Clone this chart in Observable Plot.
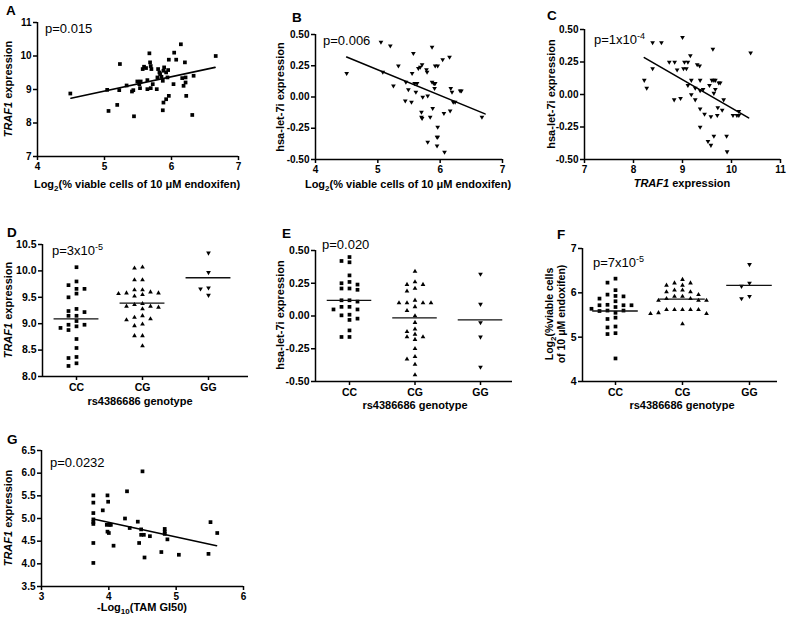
<!DOCTYPE html>
<html><head><meta charset="utf-8">
<script src="https://cdn.jsdelivr.net/npm/d3@7"></script>
<script src="https://cdn.jsdelivr.net/npm/@observablehq/plot@0.6"></script>
<style>
html,body{margin:0;padding:0;background:#fff;}
#fig{position:relative;width:788px;height:621px;overflow:hidden;font-family:"Liberation Sans",Arial,sans-serif;background:#fff;}
.pan{position:absolute;}
.pan svg{background:transparent !important;max-width:none !important;overflow:visible;}
[aria-label="x-axis"] line,[aria-label="y-axis"] line,[aria-label="x-axis tick"] path,[aria-label="y-axis tick"] path{stroke-width:1.5px;}
#ann{position:absolute;left:0;top:0;pointer-events:none;}
</style></head><body><div id="fig"></div>
<script>
// ---------- data ----------
// Panel A: Log2(% viable cells) vs TRAF1 expression
const aX=[4.49,5.04,5.06,5.19,5.22,5.23,5.33,5.41,5.44,5.43,5.49,5.52,5.54,5.53,5.57,5.59,5.62,5.64,5.67,5.68,5.69,5.70,5.69,5.72,5.64,5.78,5.79,5.82,5.80,5.83,5.85,5.87,5.88,5.89,5.92,5.95,5.94,5.87,5.88,5.92,5.96,5.96,6.03,6.04,6.07,6.14,6.16,6.18,6.20,6.21,6.21,6.22,6.31,6.33,6.66];
const aY=[8.88,8.99,8.36,8.54,8.98,9.76,9.12,8.94,8.20,8.98,9.24,9.16,9.24,9.04,9.61,9.68,9.64,9.28,10.08,9.81,9.70,9.61,9.04,9.16,9.01,9.01,9.36,9.51,9.61,9.46,9.38,9.26,9.56,9.66,9.51,9.58,9.36,8.38,8.61,8.71,8.81,9.89,9.16,10.10,9.89,10.35,9.34,9.11,9.81,9.36,9.21,8.81,8.24,9.41,10.00];
const aFitX=[4.50,6.65], aFitY=[8.74,9.66];
// Panel B: Log2(% viable cells) vs hsa-let-7i
const bX=[4.50,5.05,5.20,5.08,5.25,5.33,5.45,5.44,5.49,5.54,5.55,5.57,5.59,5.63,5.61,5.65,5.68,5.71,5.72,5.70,5.70,5.71,5.78,5.79,5.80,5.80,5.84,5.87,5.88,5.87,5.91,5.92,5.90,5.91,5.92,5.96,5.96,5.95,5.96,5.95,6.04,6.06,6.07,6.15,6.17,6.19,6.21,6.24,6.16,6.32,6.34,6.67];
const bY=[0.19,0.44,0.41,0.20,0.09,0.25,0.12,-0.03,0.06,-0.04,0.19,0.35,0.11,0.11,0.04,0.23,0.24,0.26,0.00,-0.12,-0.16,-0.17,0.22,0.20,0.01,-0.36,-0.16,0.40,-0.09,0.12,0.11,0.11,0.11,0.07,0.25,0.25,-0.24,-0.32,-0.32,-0.39,0.30,-0.13,-0.44,0.32,0.07,0.04,-0.04,-0.04,-0.11,0.05,0.05,-0.16];
const bFitX=[4.50,6.72], bFitY=[0.32,-0.135];
// Panel C: TRAF1 vs hsa-let-7i
const cX=[8.22,8.27,8.39,8.39,8.57,8.73,8.84,8.83,8.89,8.96,9.00,9.02,9.04,9.08,9.11,9.11,9.16,9.18,9.18,9.26,9.26,9.30,9.35,9.36,9.36,9.36,9.36,9.42,9.45,9.52,9.55,9.58,9.58,9.60,9.62,9.64,9.64,9.64,9.67,9.67,9.71,9.72,9.74,9.77,9.81,9.84,9.90,9.91,10.03,10.11,10.15,10.15,10.39];
const cY=[0.11,0.05,0.40,0.20,0.40,0.25,0.25,-0.04,0.19,-0.03,0.44,0.20,0.25,0.20,0.25,0.07,0.30,0.11,0.00,0.05,-0.04,0.23,0.22,0.11,0.03,-0.11,-0.25,0.04,-0.15,-0.36,0.07,-0.39,-0.17,0.11,0.35,0.01,0.11,-0.32,0.11,0.04,-0.16,-0.10,0.09,0.09,-0.12,-0.04,-0.32,-0.44,-0.16,-0.16,-0.13,-0.16,0.32];
const cFitX=[8.22,10.35], cFitY=[0.284,-0.18];
// Genotype panels
const genotypes=["CC","CG","GG"];
const dCC=[10.07,9.80,9.57,9.66,9.73,9.66,9.50,9.24,9.15,9.15,9.22,9.28,8.98,8.95,9.05,8.88,8.92,8.98,8.71,8.54,8.37,8.35,8.20,8.25];
const dCG=[10.07,10.05,9.83,9.83,9.64,9.60,9.58,9.58,9.64,9.57,9.55,9.52,9.31,9.36,9.33,9.33,9.28,9.38,9.12,9.09,9.15,8.99,9.07,8.96,8.77,8.77,8.58];
const dGG=[10.34,9.97,9.68,9.66,9.54];
const dMean=[9.09,9.39,9.87];
const eCC=[0.45,0.41,0.42,0.31,0.25,0.26,0.24,0.21,0.20,0.21,0.12,0.11,0.12,0.07,0.05,0.05,0.07,0.01,0.005,-0.02,-0.03,-0.11,-0.16,-0.16];
const eCG=[0.34,0.24,0.21,0.26,0.24,0.19,0.10,0.10,0.10,0.10,0.12,0.07,0.04,0.00,-0.05,-0.14,-0.16,-0.10,-0.18,-0.16,-0.12,-0.25,-0.33,-0.31,-0.37,-0.45];
const eGG=[0.32,0.09,-0.05,-0.16,-0.39];
const eMean=[0.12,-0.015,-0.03];
const fCC=[6.32,6.23,5.96,5.93,5.92,6.06,5.72,5.68,5.81,5.72,5.87,5.73,5.72,5.64,5.55,5.60,5.59,5.60,5.41,5.44,5.24,5.22,5.09,5.07,4.52];
const fCG=[6.30,6.22,6.22,6.17,6.17,6.06,6.02,6.02,5.87,5.92,5.96,5.92,5.87,5.83,5.83,5.83,6.06,5.62,5.62,5.62,5.62,5.62,5.53,5.55,5.53,5.30];
const fGG=[6.64,6.22,6.15,5.87,5.92];
const fMean=[5.59,5.86,6.17];
// Panel G: -Log10(TAM GI50) vs TRAF1
const gX=[3.77,3.77,3.77,3.77,3.77,3.77,3.77,3.77,3.91,3.98,3.99,3.97,3.98,4.00,4.01,4.03,4.07,4.24,4.27,4.31,4.43,4.45,4.48,4.50,4.48,4.52,4.53,4.61,4.78,4.83,4.83,4.83,4.87,5.04,5.48,5.51,5.61];
const gY=[5.51,5.35,5.12,4.98,4.92,4.88,4.46,4.02,5.18,5.51,5.37,4.86,4.71,4.68,4.86,4.86,4.40,5.00,5.60,4.79,4.93,4.46,4.76,6.04,4.64,4.64,4.14,4.61,4.26,4.77,4.71,4.66,4.54,4.20,4.22,4.92,4.68];
const gFitX=[3.77,5.60], gFitY=[4.99,4.40];

// ---------- helpers ----------
const FONT='"Liberation Sans", Arial, Helvetica, sans-serif';
const fig=document.getElementById("fig");
const zip=(xs,ys)=>xs.map((x,i)=>({x,y:ys[i]}));
const triDown={draw(ctx,size){const s3=Math.sqrt(3);const y=-Math.sqrt(size/(s3*3));ctx.moveTo(0,-y*2);ctx.lineTo(-s3*y,y);ctx.lineTo(s3*y,y);ctx.closePath();}};
const SYM=["square","triangle",triDown];
const RAD=[2.1,1.75,1.75];

function panel(frame,opts){
  const [x0,y0,x1,y1]=frame;
  const ml=40,mt=12,mr=12,mb=26;
  const svg=Plot.plot({
    width:(x1-x0)+ml+mr,height:(y1-y0)+mt+mb,
    marginLeft:ml,marginTop:mt,marginRight:mr,marginBottom:mb,
    style:{fontFamily:FONT,fontSize:opts.fontSize||"10px",fontWeight:"bold",background:"transparent",color:"black",overflow:"visible"},
    x:Object.assign({label:null,tickSize:4,tickPadding:2},opts.x),
    y:Object.assign({label:null,tickSize:4,tickPadding:2},opts.y),
    marks:[
      Plot.ruleX([opts.x.domain[0]],{stroke:"black",strokeWidth:1.5}),
      Plot.ruleY([opts.y.domain[0]],{stroke:"black",strokeWidth:1.5}),
      ...opts.marks
    ]
  });
  const div=document.createElement("div");
  div.className="pan";
  div.style.left=(x0-ml)+"px";div.style.top=(y0-mt)+"px";
  div.appendChild(svg);fig.appendChild(div);
}

function scatter(frame,xs,ys,fitX,fitY,sym,xo,yo){
  panel(frame,{x:xo,y:yo,marks:[
    Plot.dot(zip(xs,ys),{x:"x",y:"y",symbol:()=>SYM[sym],r:RAD[sym],fill:"black"}),
    Plot.line(zip(fitX,fitY),{x:"x",y:"y",stroke:"black",strokeWidth:1.6})
  ]});
}

// GraphPad-like column scatter: rows of points spread on discrete columns
function swarm(vals,gi,yPx,xPx){
  const sorted=[...vals].sort((a,b)=>b-a);
  const placed=[],out=[];
  for(const v of sorted){
    const py=v*yPx;let k=0;
    for(let n=0;;n++){
      k=n===0?0:(n%2?-Math.ceil(n/2):Math.ceil(n/2));
      if(!placed.some(p=>p.k===k&&Math.abs(p.py-py)<4.6))break;
    }
    placed.push({k,py});
    out.push({x:gi+k*8/xPx,y:v,g:gi});
  }
  return out;
}

function genoPanel(frame,c0,unit,groups,means,yo){
  const [x0,y0,x1,y1]=frame;
  const yPx=(y1-y0)/(yo.domain[1]-yo.domain[0]);
  const pts=groups.flatMap((vals,gi)=>swarm(vals,gi,yPx,unit));
  const xo={domain:[(x0-c0)/unit,(x1-c0)/unit],ticks:[0,1,2],tickFormat:i=>genotypes[i],tickPadding:3};
  panel(frame,{x:xo,y:yo,fontSize:"10.5px",marks:[
    ...[0,1,2].map(gi=>Plot.dot(pts.filter(p=>p.g===gi),{x:"x",y:"y",symbol:()=>SYM[gi],r:RAD[gi],fill:"black"})),
    Plot.ruleY(means.map((m,i)=>({m,i})),{y:"m",x1:d=>d.i-0.34,x2:d=>d.i+0.34,stroke:"#111",strokeWidth:1.3})
  ]});
}

const f2=d=>d.toFixed(2), f1=d=>d.toFixed(1), f0=d=>d.toFixed(0);

// ---------- panels ----------
scatter([37,22,238,156],aX,aY,aFitX,aFitY,0,{domain:[4,7],ticks:[4,5,6,7],tickFormat:f0},{domain:[7,11],ticks:[7,8,9,10,11],tickFormat:f0});
scatter([315,34,502,159],bX,bY,bFitX,bFitY,2,{domain:[4,7],ticks:[4,5,6,7],tickFormat:f0},{domain:[-0.5,0.5],ticks:[-0.5,-0.25,0,0.25,0.5],tickFormat:f2});
scatter([584,29,780,159],cX,cY,cFitX,cFitY,2,{domain:[7,11],ticks:[7,8,9,10,11],tickFormat:f0},{domain:[-0.5,0.5],ticks:[-0.5,-0.25,0,0.25,0.5],tickFormat:f2});
genoPanel([42,244,248,376],76,66,[dCC,dCG,dGG],dMean,{domain:[8,10.5],ticks:[8,8.5,9,9.5,10,10.5],tickFormat:f1});
genoPanel([315,250,512,381],349,65.5,[eCC,eCG,eGG],eMean,{domain:[-0.5,0.5],ticks:[-0.5,-0.25,0,0.25,0.5],tickFormat:f2});
genoPanel([582,248,777,381],615,67,[fCC,fCG,fGG],fMean,{domain:[4,7],ticks:[4,5,6,7],tickFormat:f0});
scatter([41,450,243,586],gX,gY,gFitX,gFitY,0,{domain:[3,6],ticks:[3,4,5,6],tickFormat:f0},{domain:[3.5,6.5],ticks:[3.5,4,4.5,5,5.5,6,6.5],tickFormat:f1});

// ---------- annotations (letters, axis titles, p-values) ----------
const sub=(t)=>`<tspan dy="3" font-size="8">${t}</tspan><tspan dy="-3">`;
const sup=(t)=>`<tspan dy="-5" font-size="9">${t}</tspan>`;
const lg2=`Log${sub("2")}(% viable cells of 10 μM endoxifen)</tspan>`;
const traf=`<tspan font-style="italic">TRAF1</tspan> expression`;
const let7="hsa-let-7i expression";
function T(x,y,s,o={}){
  const size=o.size||11,w=o.w||"bold",a=o.a||"middle";
  const tr=o.rot?` transform="translate(${x},${y}) rotate(-90)"`:` x="${x}" y="${y}"`;
  return `<text${tr} font-size="${size}" font-weight="${w}" text-anchor="${a}">${s}</text>`;
}
const letters=[["A",6,15],["B",292,22],["C",547,20],["D",7,237],["E",282,238],["F",557,239],["G",7,444]];
const pvals=[["p=0.015",45,33],["p=0.006",323,45],[`p=1x10${sup("-4")}`,594,44],[`p=3x10${sup("-5")}`,52,255],["p=0.020",322,249],[`p=7x10${sup("-5")}`,593,267],["p=0.0232",50,467]];
let s=`<svg id="ann" width="788" height="621" font-family='${FONT}' fill="black">`;
for(const [t,x,y] of letters) s+=T(x,y,t,{size:13.5,a:"start"});
for(const [t,x,y] of pvals) s+=T(x,y,t,{size:13,w:"normal",a:"start"});
// x titles
s+=T(137,188,lg2);
s+=T(408,188,lg2);
s+=T(682,187,traf);
s+=T(140,405,"rs4386686 genotype");
s+=T(415,409,"rs4386686 genotype");
s+=T(682,409,"rs4386686 genotype");
s+=T(142,611,`-Log${sub("10")}(TAM GI50)</tspan>`);
// y titles
s+=T(12,89,traf,{rot:true});
s+=T(284,97,let7,{rot:true});
s+=T(555,94,let7,{rot:true});
s+=T(12,310,traf,{rot:true});
s+=T(284,315,let7,{rot:true});
s+=T(553,314,`Log${sub("2")}(%viable cells</tspan>`,{rot:true,size:10.5});
s+=T(565,314,"of 10 μM endoxifen)",{rot:true,size:10.5});
s+=T(12,518,traf,{rot:true});
s+=`</svg>`;
fig.insertAdjacentHTML("beforeend",s);
</script></body></html>
